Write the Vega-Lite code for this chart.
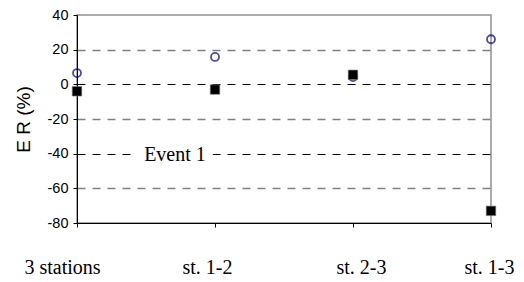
{
  "$schema": "https://vega.github.io/schema/vega-lite/v6.json",
  "width": 414,
  "height": 208,
  "autosize": "none",
  "padding": {"left": 77, "top": 15, "right": 33, "bottom": 59},
  "background": "white",
  "config": {
    "view": {"stroke": "#909090", "strokeWidth": 1.5},
    "axis": {"labelFont": "Liberation Sans", "titleFont": "Liberation Sans", "labelColor": "black", "titleColor": "black", "titleFontWeight": "normal"}
  },
  "datasets": {
    "pts": [
      {"idx": 0, "station": "3 stations", "series": "A", "er": 6.5},
      {"idx": 1, "station": "st. 1-2", "series": "A", "er": 15.8},
      {"idx": 2, "station": "st. 2-3", "series": "A", "er": 4.2},
      {"idx": 3, "station": "st. 1-3", "series": "A", "er": 26},
      {"idx": 0, "station": "3 stations", "series": "B", "er": -4},
      {"idx": 1, "station": "st. 1-2", "series": "B", "er": -3},
      {"idx": 2, "station": "st. 2-3", "series": "B", "er": 5.5},
      {"idx": 3, "station": "st. 1-3", "series": "B", "er": -73}
    ],
    "note": [{"label": "Event 1", "idx": 0.71, "er": -40.5}]
  },
  "encoding": {
    "x": {
      "field": "idx", "type": "quantitative",
      "scale": {"domain": [0, 3], "nice": false, "zero": false},
      "axis": {
        "title": null, "values": [0, 1, 2, 3], "grid": false,
        "labelExpr": "['3 stations','st. 1-2','st. 2-3','st. 1-3'][datum.value]",
        "labelFont": "Liberation Serif", "labelFontSize": 20, "labelBaseline": "middle",
        "labelOffset": {"condition": [
          {"test": "datum.value == 0", "value": -15},
          {"test": "datum.value == 1", "value": -8},
          {"test": "datum.value == 2", "value": 8}
        ], "value": -2},
        "labelPadding": 40, "tickSize": 4, "tickColor": "black", "domainColor": "black",
        "labelFlush": false, "labelOverlap": false
      }
    },
    "y": {
      "field": "er", "type": "quantitative",
      "scale": {"domain": [-80, 40], "nice": false},
      "axis": {
        "title": "E R (%)", "titleFontSize": 19, "titleX": -54, "titleY": 104, "titleAngle": -90, "titleBaseline": "middle", "titleAlign": "center",
        "values": [-80, -60, -40, -20, 0, 20, 40],
        "labelExpr": "'' + datum.value",
        "labelOverlap": false, "labelFlush": false,
        "labelFontSize": 14.5, "labelPadding": 5, "tickSize": 4, "tickColor": "black", "domainColor": "black",
        "grid": true,
        "gridDash": [8, 7],
        "gridColor": {"condition": {"test": "datum.value == 0 || datum.value == -40", "value": "black"}, "value": "#808080"},
        "gridWidth": {"condition": {"test": "datum.value == 0 || datum.value == -40", "value": 1}, "value": 1.6},
        "gridOpacity": {"condition": {"test": "datum.value == 40 || datum.value == -80", "value": 0}, "value": 1}
      }
    }
  },
  "layer": [
    {
      "data": {"name": "pts"},
      "transform": [{"filter": "datum.series == 'A'"}],
      "mark": {"type": "point", "shape": "circle", "filled": false, "stroke": "#000080", "strokeWidth": 1.8, "size": 64, "clip": false}
    },
    {
      "data": {"name": "pts"},
      "transform": [{"filter": "datum.series == 'B'"}],
      "mark": {"type": "point", "shape": "square", "filled": true, "fill": "black", "stroke": "#777", "strokeWidth": 0.6, "size": 90, "clip": false, "opacity": 1}
    },
    {
      "data": {"name": "note"},
      "mark": {"type": "text", "font": "Liberation Serif", "fontSize": 20, "stroke": "white", "strokeWidth": 20, "strokeJoin": "round", "fill": "white", "align": "center", "baseline": "middle"},
      "encoding": {"text": {"field": "label"}}
    },
    {
      "data": {"name": "note"},
      "mark": {"type": "text", "font": "Liberation Serif", "fontSize": 20, "fill": "black", "align": "center", "baseline": "middle"},
      "encoding": {"text": {"field": "label"}}
    }
  ]
}
